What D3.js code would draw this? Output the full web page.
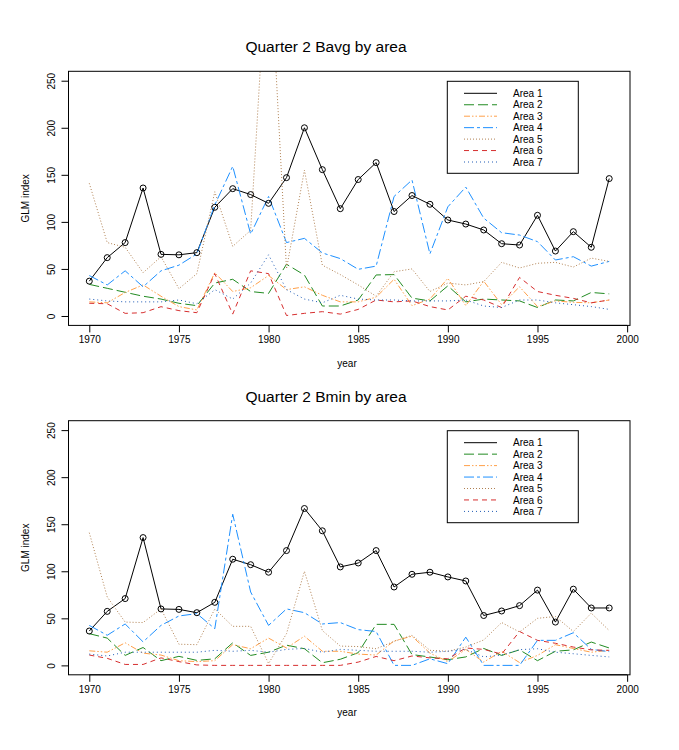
<!DOCTYPE html>
<html>
<head>
<meta charset="utf-8">
<script src="https://cdn.jsdelivr.net/npm/d3@7"></script>
<style>
  html, body { margin: 0; padding: 0; background: #fff; }
  svg { display: block; font-family: "Liberation Sans", Arial, Helvetica, sans-serif; }
</style>
</head>
<body>
<svg id="chart" width="679" height="750"></svg>
<script>
// Survey years
const years = d3.range(1970, 2000);

// Area names and legend labels
const areas = ["Area 1", "Area 2", "Area 3", "Area 4", "Area 5", "Area 6", "Area 7"];

// Quarter 2 Bavg GLM index, one array per area
const bavgArea1 = [37, 62, 78, 136, 65.5, 65, 67.3, 115.5, 135.3, 129, 119.7, 147, 200, 155.5, 114, 145, 163, 111, 128, 118.7, 102, 97.7, 91.4, 76.8, 75.4, 107, 69, 89.6, 73, 146];
const bavgArea2 = [33.6, 29.4, 25.2, 21, 18, 13.5, 11, 35, 39, 26, 24, 55, 43.5, 10.6, 10.6, 17, 43.6, 44, 19, 16, 32, 15, 18, 17, 16, 9, 17, 16, 25, 23.5];
const bavgArea3 = [15, 14, 25, 33, 21, 10, 6.4, 46, 26, 30, 43, 28, 31, 22, 15, 15, 20, 39, 11, 18, 40, 11, 37, 12, 31, 10, 16, 14.5, 14, 17];
const bavgArea4 = [43, 33, 48, 31, 48, 54, 66, 118, 159, 87, 127, 78, 82.5, 67, 61, 49.6, 53, 127, 144.5, 66, 116, 137, 104, 88.5, 86, 79, 59.5, 63, 53, 58];
const bavgArea5 = [141, 78, 73, 46, 63, 29, 45, 132, 74, 91, 410, 50, 155, 54, 44, 33, 21, 47, 50, 26, 35, 33, 36.5, 57, 51, 56, 57, 52, 61.5, 58];
const bavgArea6 = [13.5, 13, 2.8, 3.5, 9.9, 5.7, 3.5, 45, 2, 48, 45, 0.5, 2.8, 4.6, 2, 7, 17, 15, 16, 10, 6.4, 21, 17, 9, 41, 26, 22, 18.7, 14, 17];
const bavgArea7 = [18, 16, 15, 15, 15, 17, 13, 28, 18, 35, 65, 28, 18, 14, 22, 18, 17, 17, 16, 16, 16, 17, 10.6, 9, 17, 17, 14, 12, 10, 7];

// Quarter 2 Bmin GLM index, one array per area
const bminArea1 = [36.5, 57.4, 71, 135.8, 60, 59.5, 56, 67, 112.8, 107, 99, 122, 166.7, 143, 104.6, 108.8, 122, 83.3, 96.8, 99, 94, 89.7, 53, 57.8, 63.5, 80, 46, 81, 61, 61];
const bminArea2 = [33.7, 29, 10.6, 19, 5, 9.6, 5.3, 7, 24, 10.6, 14, 21.5, 17.7, 2.8, 6.5, 13.5, 43.6, 43.6, 11.5, 8.9, 6, 9, 18, 10.6, 16.5, 5, 15, 16.5, 24.8, 18.5];
const bminArea3 = [15.5, 14, 24, 13, 11, 5, 4, 5, 22, 17.7, 29, 18.5, 31, 15, 15, 12, 11, 26, 31, 13, 4, 17, 3.5, 15, 3, 10.6, 22, 18, 14, 16];
const bminArea4 = [42.5, 32, 44, 25, 42.5, 52.5, 55, 39, 160.6, 78, 42.5, 60, 56, 44, 45.5, 38, 36, 0, 0, 7, 1.8, 30, 0, 0, 0, 26.6, 26.6, 34.7, 17, 14.6];
const bminArea5 = [141, 72.7, 46, 45.5, 60, 22.5, 22, 60, 41.5, 41.5, 2, 33.7, 100, 37, 20.5, 20, 17.7, 25.5, 32, 16, 15, 19.5, 27, 45.5, 35.5, 50, 52, 36, 55.5, 37];
const bminArea6 = [11, 7.5, 1, 1, 8, 4, 0.5, 0, 0, 0, 0, 0, 0, 0, 0, 3.5, 9.5, 5, 10, 8, 7, 18.5, 17, 12, 36, 26.6, 23.5, 19.5, 16.5, 16];
const bminArea7 = [12, 10, 14, 14, 14, 14, 14, 16, 15, 16, 14, 17, 18, 14, 17, 16, 15, 15, 15, 14, 15, 17, 9, 11, 16.7, 17.7, 14, 12.4, 10.6, 9];

// Axis ticks
const xTicks = [1970, 1975, 1980, 1985, 1990, 1995, 2000];
const yTicks = [0, 50, 100, 150, 200, 250];

// Panel titles
const titles = ["Quarter 2 Bavg by area", "Quarter 2 Bmin by area"];

// Line styles per area
const colors = ["#000000", "#228B22", "#FFA04A", "#1E90FF", "#B08052", "#D62F2F", "#1F5BB5"];
const dashes = [null, "10,4", "6,2,1.5,2,1.5,2", "10,3,3,3", "1,2", "5,4", "1,3"];

const panels = [
  { title: titles[0], series: [bavgArea1, bavgArea2, bavgArea3, bavgArea4, bavgArea5, bavgArea6, bavgArea7], top: 71.3 },
  { title: titles[1], series: [bminArea1, bminArea2, bminArea3, bminArea4, bminArea5, bminArea6, bminArea7], top: 420.7 }
];

const svg = d3.select("#chart");
const left = 68.5, right = 630, plotH = 254.1;
const titleX = 326;

const x = d3.scaleLinear().domain([1968.84, 2000.16]).range([left, right]);

panels.forEach((p, pi) => {
  const top = p.top, bottom = top + plotH;
  const y = d3.scaleLinear().domain([-10, 260]).range([bottom, top]);
  const g = svg.append("g");

  const clipId = "clip" + pi;
  g.append("clipPath").attr("id", clipId)
    .append("rect").attr("x", left).attr("y", top).attr("width", right - left).attr("height", plotH);

  // Title
  g.append("text")
    .attr("x", titleX).attr("y", top - 19)
    .attr("text-anchor", "middle")
    .attr("font-size", 15.5)
    .attr("fill", "#000")
    .text(p.title);

  // X axis
  const xAxis = d3.axisBottom(x).tickValues(xTicks).tickSize(7).tickPadding(4).tickFormat(d3.format("d"));
  const gx = g.append("g").attr("transform", `translate(0,${bottom})`).call(xAxis);
  gx.select(".domain").remove();
  gx.append("line").attr("x1", x(1970)).attr("x2", x(2000)).attr("stroke", "#000");
  gx.selectAll("text").attr("font-size", 10).attr("fill", "#000").attr("font-family", null);

  // Y axis
  const yAxis = d3.axisLeft(y).tickValues(yTicks).tickSize(7).tickFormat(d3.format("d"));
  const gy = g.append("g").attr("transform", `translate(${left},0)`).call(yAxis);
  gy.select(".domain").remove();
  gy.selectAll(".tick text")
    .attr("x", null).attr("dy", null)
    .attr("text-anchor", "middle")
    .attr("transform", "translate(-13.3,0) rotate(-90)")
    .attr("font-size", 10).attr("fill", "#000").attr("font-family", null);

  // Axis titles
  g.append("text")
    .attr("x", 347).attr("y", bottom + 41.5)
    .attr("text-anchor", "middle").attr("font-size", 10).attr("fill", "#000")
    .text("year");
  g.append("text")
    .attr("transform", `translate(28.6,${(top + bottom) / 2}) rotate(-90)`)
    .attr("text-anchor", "middle").attr("font-size", 10).attr("fill", "#000")
    .text("GLM index");

  // Series lines
  const line = d3.line().x((d, i) => x(years[i])).y(d => y(d));
  const lines = g.append("g").attr("clip-path", `url(#${clipId})`);
  p.series.forEach((vals, k) => {
    lines.append("path")
      .attr("d", line(vals))
      .attr("fill", "none")
      .attr("stroke", colors[k])
      .attr("stroke-width", 1)
      .attr("stroke-dasharray", dashes[k]);
  });

  // Open circle markers on Area 1
  lines.selectAll("circle.pt").data(p.series[0]).join("circle")
    .attr("class", "pt")
    .attr("cx", (d, i) => x(years[i]))
    .attr("cy", d => y(d))
    .attr("r", 3)
    .attr("fill", "none")
    .attr("stroke", "#000")
    .attr("stroke-width", 1);

  // Plot frame
  g.append("rect")
    .attr("x", left).attr("y", top).attr("width", right - left).attr("height", plotH)
    .attr("fill", "none").attr("stroke", "#000").attr("stroke-width", 1);

  // Legend
  const lg = g.append("g");
  lg.append("rect")
    .attr("x", 447.3).attr("y", top + 10).attr("width", 131).attr("height", 92)
    .attr("fill", "#fff").attr("stroke", "#000").attr("stroke-width", 1);
  areas.forEach((name, k) => {
    const ry = top + 22 + k * 11.45;
    lg.append("line")
      .attr("x1", 464).attr("x2", 497).attr("y1", ry).attr("y2", ry)
      .attr("stroke", colors[k]).attr("stroke-width", 1)
      .attr("stroke-dasharray", dashes[k]);
    lg.append("text")
      .attr("x", 513).attr("y", ry).attr("dy", "0.36em")
      .attr("font-size", 10).attr("fill", "#000")
      .text(name);
  });
});
</script>
</body>
</html>
